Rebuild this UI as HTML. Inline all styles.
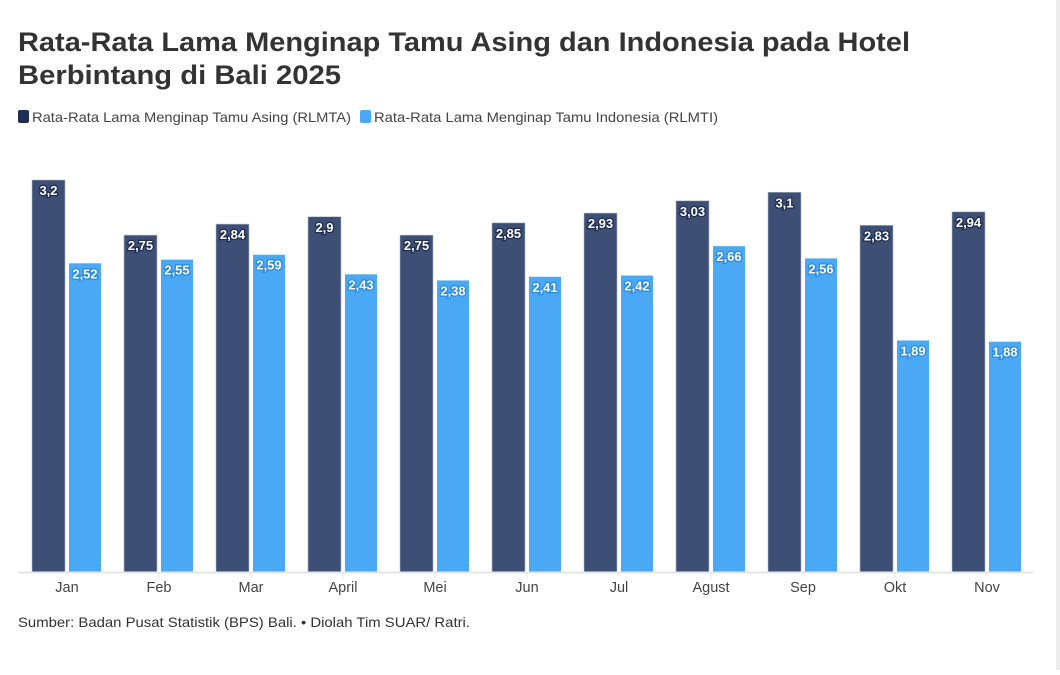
<!DOCTYPE html>
<html><head><meta charset="utf-8"><style>
body{margin:0;background:#fff;width:1060px;height:670px;overflow:hidden;font-family:"Liberation Sans",sans-serif}
</style></head><body>
<svg width="1060" height="670" xmlns="http://www.w3.org/2000/svg" font-family="Liberation Sans, sans-serif">
<rect x="1056" y="0" width="4" height="670" fill="#ececec"/>
<text x="18" y="51" font-size="27" font-weight="bold" fill="#333" textLength="892" lengthAdjust="spacingAndGlyphs">Rata-Rata Lama Menginap Tamu Asing dan Indonesia pada Hotel</text>
<text x="18" y="84" font-size="27" font-weight="bold" fill="#333" textLength="323" lengthAdjust="spacingAndGlyphs">Berbintang di Bali 2025</text>
<rect x="18" y="110" width="11" height="13" rx="2" fill="#1f2d52"/>
<text x="32" y="122" font-size="14" fill="#444" textLength="319" lengthAdjust="spacingAndGlyphs">Rata-Rata Lama Menginap Tamu Asing (RLMTA)</text>
<rect x="360" y="110" width="11" height="13" rx="2" fill="#4aa8f5"/>
<text x="374" y="122" font-size="14" fill="#444" textLength="344" lengthAdjust="spacingAndGlyphs">Rata-Rata Lama Menginap Tamu Indonesia (RLMTI)</text>
<g id="bars"></g>
<line x1="18" y1="572.5" x2="1033" y2="572.5" stroke="#e6e6e6" stroke-width="2"/>
<text x="18" y="627" font-size="14" fill="#333" textLength="452" lengthAdjust="spacingAndGlyphs">Sumber: Badan Pusat Statistik (BPS) Bali. • Diolah Tim SUAR/ Ratri.</text>
</svg>
<script>
const m=["Jan","Feb","Mar","April","Mei","Jun","Jul","Agust","Sep","Okt","Nov"];
const a=[3.2,2.75,2.84,2.9,2.75,2.85,2.93,3.03,3.1,2.83,2.94];
const b=[2.52,2.55,2.59,2.43,2.38,2.41,2.42,2.66,2.56,1.89,1.88];
const g=document.getElementById("bars");let s="";
const f=v=>String(v).replace(".",",");
for(let i=0;i<11;i++){const x=32+92*i;const ya=572-a[i]*122.5,yb=572-b[i]*122.5;
s+=`<rect x="${x}" y="${ya}" width="33" height="${572-ya}" fill="#3d4f75" stroke="#b0b8c8" stroke-width="0.6"/>`;
s+=`<rect x="${x+37}" y="${yb}" width="32" height="${572-yb}" fill="#4aa8f5"/>`;
s+=`<text x="${x+16.5}" y="${ya+15}" text-anchor="middle" font-size="13" font-weight="bold" fill="#fff" stroke="#1f2d52" stroke-width="2.5" paint-order="stroke">${f(a[i])}</text>`;
s+=`<text x="${x+53}" y="${yb+15}" text-anchor="middle" font-size="13" font-weight="bold" fill="#fff" stroke="#2a8ae0" stroke-width="2.5" paint-order="stroke">${f(b[i])}</text>`;
s+=`<line x1="${x+35}" y1="572" x2="${x+35}" y2="578" stroke="#e6e6e6"/>`;
s+=`<text x="${x+35}" y="592" text-anchor="middle" font-size="14.5" fill="#444">${m[i]}</text>`;}
g.innerHTML=s;
</script>
</body></html>
